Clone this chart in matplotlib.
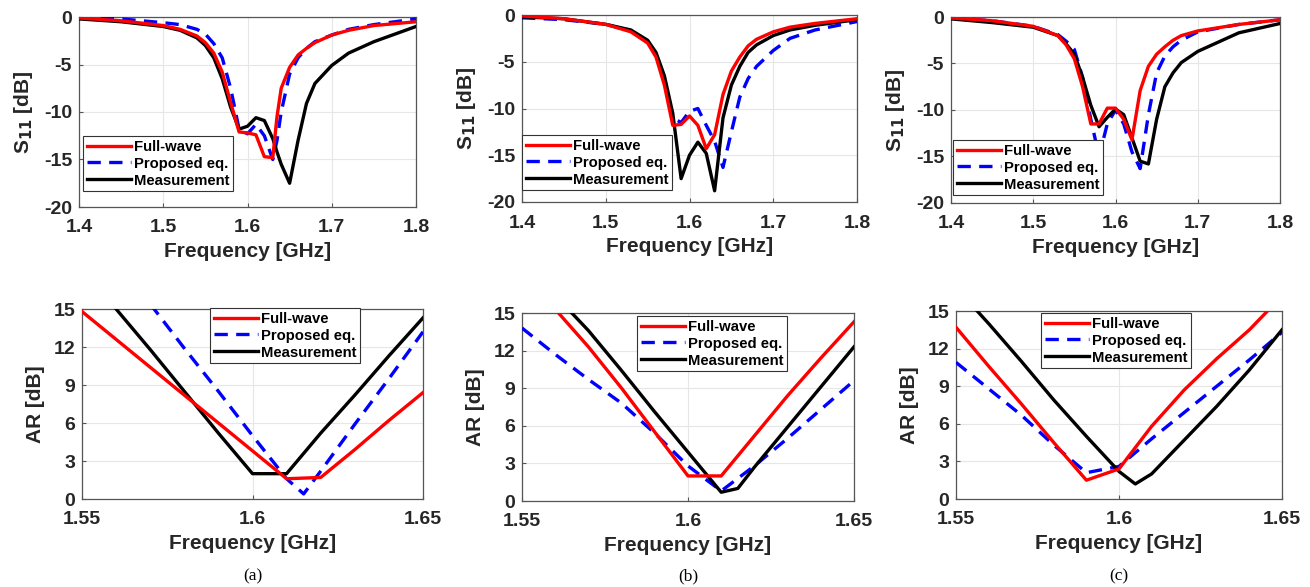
import numpy as np
import matplotlib
matplotlib.use('Agg')
import matplotlib.pyplot as plt

plt.rcParams['font.family'] = ['Liberation Sans', 'DejaVu Sans']
plt.rcParams['font.weight'] = 'bold'
plt.rcParams['axes.unicode_minus'] = False
plt.rcParams['mathtext.default'] = 'bf'

# ---- S11 data (top row) ----
f_a = [1.40, 1.45, 1.50, 1.52, 1.54, 1.55, 1.56, 1.57, 1.58, 1.59, 1.60, 1.61, 1.62, 1.63,
       1.635, 1.64, 1.65, 1.66, 1.67, 1.68, 1.70, 1.72, 1.75, 1.80]
s11_fw_a = [-0.1, -0.4, -0.9, -1.3, -2.0, -2.7, -3.8, -5.8, -9.0, -12.1, -12.2, -12.4, -14.7, -14.8,
            -10.5, -7.5, -5.3, -4.0, -3.3, -2.7, -1.9, -1.4, -0.9, -0.5]
s11_eq_a = [-0.05, -0.2, -0.6, -0.8, -1.3, -1.8, -2.8, -4.3, -7.5, -11.8, -12.3, -11.3, -12.5, -15.0,
            -13.0, -10.0, -6.0, -4.3, -3.3, -2.6, -1.9, -1.3, -0.8, -0.2]
s11_ms_a = [-0.2, -0.5, -1.0, -1.4, -2.2, -3.0, -4.3, -6.5, -9.5, -11.8, -11.5, -10.6, -10.9, -12.8,
            -14.2, -15.5, -17.5, -13.0, -9.1, -7.0, -5.1, -3.8, -2.6, -1.0]

f_b = [1.40, 1.45, 1.50, 1.53, 1.55, 1.56, 1.57, 1.58, 1.59, 1.60, 1.61, 1.62, 1.63, 1.64,
       1.65, 1.66, 1.67, 1.68, 1.70, 1.72, 1.75, 1.80]
s11_fw_b = [-0.1, -0.4, -1.0, -1.8, -3.0, -4.5, -7.5, -11.8, -11.7, -10.8, -11.8, -14.3, -12.8, -8.5,
            -6.0, -4.5, -3.3, -2.6, -1.8, -1.3, -0.9, -0.4]
s11_eq_b = [-0.3, -0.5, -1.0, -1.7, -2.8, -4.3, -7.0, -11.0, -11.5, -10.3, -10.0, -11.8, -13.5, -16.3,
            -12.5, -8.8, -6.8, -5.5, -3.8, -2.5, -1.6, -0.7]
s11_ms_b = [-0.2, -0.4, -1.0, -1.6, -2.7, -4.0, -6.5, -10.5, -17.5, -15.0, -13.6, -14.8, -18.8, -11.0,
            -7.5, -5.5, -4.0, -3.2, -2.2, -1.6, -1.1, -0.5]

f_c = [1.40, 1.45, 1.50, 1.53, 1.54, 1.55, 1.56, 1.57, 1.58, 1.59, 1.60, 1.61, 1.62, 1.63,
       1.64, 1.65, 1.66, 1.67, 1.68, 1.70, 1.75, 1.80]
s11_fw_c = [-0.1, -0.4, -1.0, -2.0, -3.0, -4.5, -7.5, -11.5, -11.5, -9.8, -9.8, -11.0, -13.2, -7.9,
            -5.3, -4.0, -3.2, -2.5, -2.0, -1.5, -0.8, -0.3]
s11_eq_c = [-0.1, -0.4, -1.0, -1.9, -2.6, -3.5, -6.5, -11.0, -15.0, -11.5, -10.0, -11.5, -14.5, -16.3,
            -10.5, -6.0, -4.2, -3.2, -2.5, -1.6, -0.8, -0.3]
s11_ms_c = [-0.2, -0.6, -1.1, -2.0, -2.9, -4.0, -6.5, -9.5, -11.8, -10.8, -9.9, -10.5, -13.0, -15.5,
            -15.8, -11.0, -7.5, -6.0, -4.9, -3.7, -1.7, -0.7]

# ---- AR data (bottom row) ----
ar_f_fw_a = [1.55, 1.56, 1.57, 1.58, 1.59, 1.60, 1.61, 1.62, 1.63, 1.64, 1.65]
ar_fw_a = [14.8, 12.6, 10.4, 8.2, 6.0, 3.8, 1.6, 1.7, 3.9, 6.2, 8.4]
ar_f_eq_a = [1.57, 1.58, 1.59, 1.60, 1.61, 1.615, 1.62, 1.63, 1.64, 1.65]
ar_eq_a = [15.4, 11.9, 8.5, 5.0, 1.6, 0.4, 2.2, 5.9, 9.5, 13.2]
ar_f_ms_a = [1.56, 1.57, 1.58, 1.59, 1.60, 1.61, 1.62, 1.63, 1.64, 1.65]
ar_ms_a = [15.0, 11.8, 8.5, 5.2, 2.0, 2.0, 5.2, 8.2, 11.3, 14.3]

ar_f_fw_b = [1.56, 1.57, 1.58, 1.59, 1.60, 1.61, 1.62, 1.63, 1.64, 1.65]
ar_fw_b = [15.3, 12.3, 9.0, 5.5, 2.0, 2.0, 5.2, 8.4, 11.4, 14.3]
ar_f_eq_b = [1.55, 1.56, 1.57, 1.58, 1.59, 1.60, 1.61, 1.62, 1.63, 1.64, 1.65]
ar_eq_b = [13.8, 11.7, 9.7, 7.8, 5.4, 2.8, 0.8, 2.8, 5.0, 7.3, 9.6]
ar_f_ms_b = [1.565, 1.57, 1.58, 1.59, 1.60, 1.61, 1.615, 1.62, 1.63, 1.64, 1.65]
ar_ms_b = [15.0, 13.6, 10.4, 7.1, 3.9, 0.7, 1.0, 2.7, 5.9, 9.1, 12.3]

ar_f_fw_c = [1.55, 1.56, 1.57, 1.58, 1.59, 1.60, 1.61, 1.62, 1.63, 1.64, 1.65]
ar_fw_c = [13.7, 10.6, 7.6, 4.5, 1.5, 2.4, 5.8, 8.7, 11.2, 13.5, 16.2]
ar_f_eq_c = [1.55, 1.56, 1.57, 1.58, 1.59, 1.60, 1.61, 1.62, 1.63, 1.64, 1.65]
ar_eq_c = [10.9, 8.8, 6.7, 4.3, 2.1, 2.6, 4.8, 6.9, 9.0, 11.1, 13.3]
ar_f_ms_c = [1.5565, 1.56, 1.57, 1.58, 1.59, 1.60, 1.605, 1.61, 1.62, 1.63, 1.64, 1.65]
ar_ms_c = [15.0, 14.0, 11.0, 7.9, 5.0, 2.2, 1.2, 2.0, 4.7, 7.4, 10.3, 13.5]

labels = ['Full-wave', 'Proposed eq.', 'Measurement']
colors = ['#ff0000', '#0000ff', '#000000']
s11_xticks = [1.4, 1.5, 1.6, 1.7, 1.8]
s11_yticks = [0, -5, -10, -15, -20]
ar_xticks = [1.55, 1.6, 1.65]
ar_yticks = [0, 3, 6, 9, 12, 15]
captions = ['(a)', '(b)', '(c)']

W, H = 1310, 587
fig = plt.figure(figsize=(W / 100, H / 100), dpi=100)


def px_axes(l, r, t, b):
    return fig.add_axes([l / W, 1 - b / H, (r - l) / W, (b - t) / H])


def style(ax):
    ax.grid(True, color='#e6e6e6', linewidth=0.8)
    ax.set_axisbelow(True)
    for s in ax.spines.values():
        s.set_linewidth(0.9)
        s.set_color('#555555')
    ax.tick_params(direction='in', length=3, labelsize=14, width=0.8, color='#555555',
                   labelcolor='#262626')
    ax.tick_params(axis='x', pad=9)
    ax.tick_params(axis='y', pad=5)
    for lab in ax.get_xticklabels() + ax.get_yticklabels():
        lab.set_fontweight('bold')


def draw(ax, xs, ys):
    lines = []
    for x, y, c, i in zip(xs, ys, colors, range(3)):
        if i == 1:
            ln, = ax.plot(x, y, color=c, lw=2.4, dashes=(4, 2.5), zorder=3)
        else:
            ln, = ax.plot(x, y, color=c, lw=2.4, zorder=3 + (i == 0))
        lines.append(ln)
    return lines


def add_legend(ax, lines, pos, anchor):
    l, r, t, b = pos
    lx, ly = anchor
    leg = ax.legend(lines, labels, loc='upper left',
                    bbox_to_anchor=((lx - l) / (r - l), (b - ly) / (b - t)),
                    prop={'size': 10.7, 'weight': 'bold'}, handlelength=3.0,
                    handletextpad=0.15, labelspacing=0.2, borderpad=0.25,
                    borderaxespad=0, fancybox=False, framealpha=1, edgecolor='#333333')
    leg.get_frame().set_linewidth(0.8)


def set_labels(ax, ylabel):
    ax.set_xlabel('Frequency [GHz]', fontsize=15, fontweight='bold', labelpad=4,
                  color='#262626')
    ax.set_ylabel(ylabel, fontsize=15, fontweight='bold', labelpad=6, color='#262626')


top_pos = [(79, 416, 17, 207), (522, 857, 15, 202), (951, 1280, 17, 203)]
bot_pos = [(82, 423, 309, 499), (522, 854, 313, 501), (956, 1282, 311, 499)]
top_data = [(f_a, s11_fw_a, s11_eq_a, s11_ms_a),
            (f_b, s11_fw_b, s11_eq_b, s11_ms_b),
            (f_c, s11_fw_c, s11_eq_c, s11_ms_c)]
bot_data = [((ar_f_fw_a, ar_f_eq_a, ar_f_ms_a), (ar_fw_a, ar_eq_a, ar_ms_a)),
            ((ar_f_fw_b, ar_f_eq_b, ar_f_ms_b), (ar_fw_b, ar_eq_b, ar_ms_b)),
            ((ar_f_fw_c, ar_f_eq_c, ar_f_ms_c), (ar_fw_c, ar_eq_c, ar_ms_c))]
top_leg = [(83, 136), (522, 135), (953, 140)]
bot_leg = [(210, 308), (637, 316), (1041, 313)]

for i in range(3):
    ax = px_axes(*top_pos[i])
    f, fw, eq, ms = top_data[i]
    lines = draw(ax, [f, f, f], [fw, eq, ms])
    ax.set_xlim(1.4, 1.8)
    ax.set_ylim(-20, 0)
    ax.set_xticks(s11_xticks)
    ax.set_xticklabels([str(v) for v in s11_xticks])
    ax.set_yticks(s11_yticks)
    ax.set_yticklabels([str(v) for v in s11_yticks])
    style(ax)
    set_labels(ax, 'S$_{11}$ [dB]')
    add_legend(ax, lines, top_pos[i], top_leg[i])

    ax2 = px_axes(*bot_pos[i])
    xs, ys = bot_data[i]
    lines = draw(ax2, xs, ys)
    ax2.set_xlim(1.55, 1.65)
    ax2.set_ylim(0, 15)
    ax2.set_xticks(ar_xticks)
    ax2.set_xticklabels([str(v) for v in ar_xticks])
    ax2.set_yticks(ar_yticks)
    style(ax2)
    set_labels(ax2, 'AR [dB]')
    add_legend(ax2, lines, bot_pos[i], bot_leg[i])

    cx = (bot_pos[i][0] + bot_pos[i][1]) / 2 / W
    fig.text(cx, 1 - 576 / H, captions[i], ha='center', va='center',
             fontsize=12.5, fontweight='normal', family=['Liberation Serif', 'DejaVu Serif'])

fig.savefig('out.png', dpi=100)
